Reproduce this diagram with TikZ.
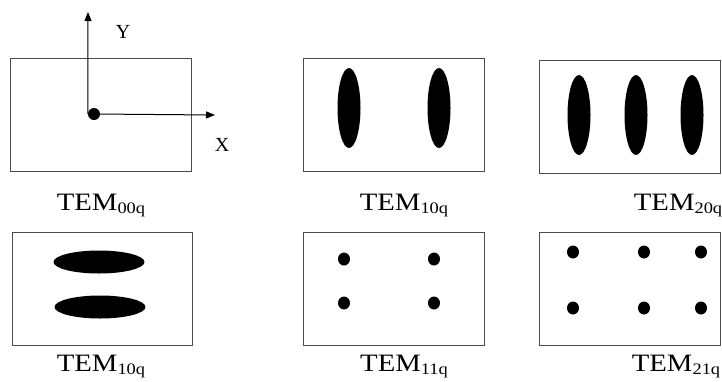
\documentclass[tikz,border=0pt]{standalone}
\usepackage{fontspec}
\setmainfont{Liberation Serif}
\usetikzlibrary{shapes.geometric,arrows.meta}
\newcommand{\temlabel}[1]{\scalebox{1.15}[1]{\fontsize{25}{29}\selectfont TEM\raisebox{-3pt}{\fontsize{16}{18}\selectfont #1}}}
\begin{document}
\begin{tikzpicture}[x=1pt,y=-1pt,
  panel/.style={draw=black!70, line width=1pt, rectangle, minimum width=181pt, minimum height=113pt, inner sep=0pt},
  vlobe/.style={ellipse, fill=black, inner sep=0pt, minimum width=23pt, minimum height=80pt},
  hlobe/.style={ellipse, fill=black, inner sep=0pt, minimum width=91pt, minimum height=23pt},
  spot/.style={ellipse, fill=black, inner sep=0pt, minimum width=12pt, minimum height=13pt},
  lab/.style={anchor=base, inner sep=0pt},
  axislbl/.style={inner sep=0pt, font=\fontsize{20}{24}\selectfont},
  axis/.style={line width=1pt, -{Triangle[length=9pt,width=7pt]}}
]
\useasboundingbox (0,0) rectangle (722,381);

% panels
\node[panel] (p1) at (100.5,114.5) {};
\node[panel] (p2) at (393.5,114.5) {};
\node[panel] (p3) at (629.5,116.5) {};
\node[panel, minimum width=180pt] (p4) at (102,288.5) {};
\node[panel] (p5) at (393.5,288.5) {};
\node[panel] (p6) at (630,288.5) {};

% panel 1: axes
\node[circle, fill=black, inner sep=0pt, minimum size=12pt] (dot) at (94,114) {};
\coordinate (ytip) at (88,12);
\coordinate (xtip) at (215,115);
\draw[axis] (dot.west) -- (ytip);
\draw[axis] (dot.center) -- (xtip);
\node[axislbl] (ylab) at (123,32) {Y};
\node[axislbl] (xlab) at (222,145) {X};

% panel 2
\node[vlobe] (a1) at (349,108) {};
\node[vlobe] (a2) at (439,108) {};

% panel 3
\node[vlobe] (b1) at (579,115) {};
\node[vlobe] (b2) at (636,115) {};
\node[vlobe] (b3) at (692,115) {};

% panel 4
\node[hlobe] (c1) at (99,262) {};
\node[hlobe] (c2) at (100,307) {};

% panel 5
\node[spot] (d1) at (344,259) {};
\node[spot] (d2) at (434,259) {};
\node[spot] (d3) at (344,303) {};
\node[spot] (d4) at (434,303) {};

% panel 6
\node[spot] (e1) at (573,252) {};
\node[spot] (e2) at (644,252) {};
\node[spot] (e3) at (701,252) {};
\node[spot] (e4) at (573,308) {};
\node[spot] (e5) at (644,308) {};
\node[spot] (e6) at (701,308) {};

% labels
\node[lab] (l1) at (101,210) {\temlabel{00q}};
\node[lab] (l2) at (404,210) {\temlabel{10q}};
\node[lab] (l3) at (678,210) {\temlabel{20q}};
\node[lab] (l4) at (101,371) {\temlabel{10q}};
\node[lab] (l5) at (404,371) {\temlabel{11q}};
\node[lab] (l6) at (676,371) {\temlabel{21q}};
\end{tikzpicture}
\end{document}
